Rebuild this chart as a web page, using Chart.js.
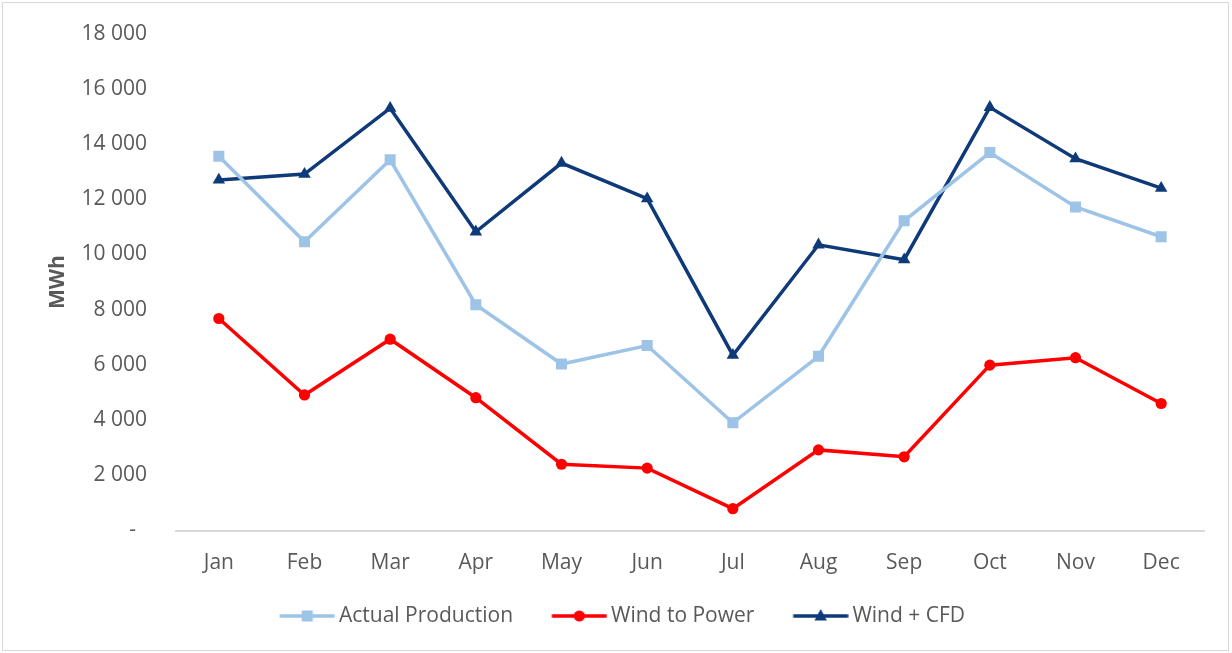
<!DOCTYPE html>
<html>
<head>
<meta charset="utf-8">
<script src="https://cdn.jsdelivr.net/npm/chart.js@4"></script>
<style>
  html, body { margin: 0; padding: 0; background: #ffffff; }
  #wrap { position: relative; width: 1232px; height: 653px; }
  canvas { display: block; }
</style>
</head>
<body>
<div id="wrap"><canvas id="c" width="1232" height="653"></canvas></div>
<script>
// ---- data ----
const categories = ['Jan','Feb','Mar','Apr','May','Jun','Jul','Aug','Sep','Oct','Nov','Dec'];
const actualProduction = [13560, 10460, 13430, 8180, 6030, 6700, 3900, 6310, 11220, 13690, 11720, 10640];
const windToPower      = [7680, 4910, 6930, 4810, 2400, 2260, 790, 2920, 2670, 5990, 6260, 4600];
const windPlusCFD      = [12700, 12910, 15300, 10820, 13310, 12020, 6350, 10350, 9810, 15330, 13470, 12400];
const seriesNames = ['Actual Production', 'Wind to Power', 'Wind + CFD'];
const yTickValues = [0, 2000, 4000, 6000, 8000, 10000, 12000, 14000, 16000, 18000];
const yTickLabels = ['-  ', '2 000', '4 000', '6 000', '8 000', '10 000', '12 000', '14 000', '16 000', '18 000'];
const yAxisTitle = 'MWh';

// ---- styles ----
const colors = ['#9dc3e6', '#ff0000', '#0e3a7a'];
const markers = ['rect', 'circle', 'triangle'];
const radii = [7.8, 5.6, 7.2];
const textColor = '#595959';
const FONT = "'Open Sans', sans-serif";

function legendIcon(color, marker) {
  const c = document.createElement('canvas');
  c.width = 91; c.height = 16;
  const g = c.getContext('2d');
  const y = 8;
  g.strokeStyle = color; g.lineWidth = 3.5;
  g.beginPath(); g.moveTo(35.5, y); g.lineTo(90.5, y); g.stroke();
  g.fillStyle = color;
  const cx = 63;
  if (marker === 'rect') {
    g.fillRect(cx - 5.5, y - 5.5, 11, 11);
  } else if (marker === 'circle') {
    g.beginPath(); g.arc(cx, y, 5.6, 0, Math.PI * 2); g.fill();
  } else {
    g.beginPath(); g.moveTo(cx, y - 7); g.lineTo(cx + 6.2, y + 4.5); g.lineTo(cx - 6.2, y + 4.5); g.closePath(); g.fill();
  }
  return c;
}
const icons = colors.map((col, i) => legendIcon(col, markers[i]));

const frame = {
  id: 'frame',
  beforeDraw(chart) {
    const ctx = chart.ctx;
    ctx.save();
    ctx.fillStyle = '#ffffff';
    ctx.fillRect(0, 0, chart.width, chart.height);
    ctx.strokeStyle = '#d9d9d9';
    ctx.lineWidth = 1;
    ctx.strokeRect(2.5, 2.5, 1226, 648);
    ctx.restore();
  }
};

const seriesData = [actualProduction, windToPower, windPlusCFD];

new Chart(document.getElementById('c'), {
  type: 'line',
  data: {
    labels: categories,
    datasets: seriesData.map((d, i) => ({
      label: seriesNames[i],
      data: d,
      borderColor: colors[i],
      backgroundColor: colors[i],
      borderWidth: 3.5,
      pointStyle: markers[i],
      pointRadius: radii[i],
      pointHoverRadius: radii[i],
      pointBorderWidth: 0,
      pointBackgroundColor: colors[i],
      tension: 0,
      fill: false
    }))
  },
  options: {
    responsive: false,
    animation: false,
    devicePixelRatio: 1,
    layout: { padding: { top: 25, right: 28, bottom: 16.5, left: 12 } },
    font: { family: FONT },
    plugins: {
      tooltip: { enabled: false },
      legend: {
        position: 'bottom',
        labels: {
          usePointStyle: true,
          pointStyleWidth: 77.5,
          padding: 10,
          color: textColor,
          font: { family: FONT, size: 21 },
          generateLabels(chart) {
            const items = Chart.defaults.plugins.legend.labels.generateLabels(chart);
            items.forEach((it, i) => { it.pointStyle = icons[i]; });
            return items;
          }
        }
      }
    },
    scales: {
      x: {
        offset: true,
        grid: { display: false },
        border: { display: true, color: '#d9d9d9', width: 2 },
        ticks: { color: textColor, font: { family: FONT, size: 21 }, padding: 11.5, maxRotation: 0 },
        afterFit(scale) { scale.height = 65; }
      },
      y: {
        min: 0, max: 18000,
        afterBuildTicks(scale) { scale.ticks = yTickValues.map(v => ({ value: v })); },
        grid: { display: false },
        border: { display: false },
        ticks: {
          color: textColor,
          font: { family: FONT, size: 21 },
          padding: 21,
          callback(value, index) { return yTickLabels[index]; }
        },
        title: {
          display: true,
          text: yAxisTitle,
          color: textColor,
          font: { family: FONT, size: 21, weight: 'bold' },
          padding: { top: 33, bottom: 0 }
        },
        afterFit(scale) { scale.width = 164; }
      }
    }
  },
  plugins: [frame]
});
</script>
</body>
</html>
